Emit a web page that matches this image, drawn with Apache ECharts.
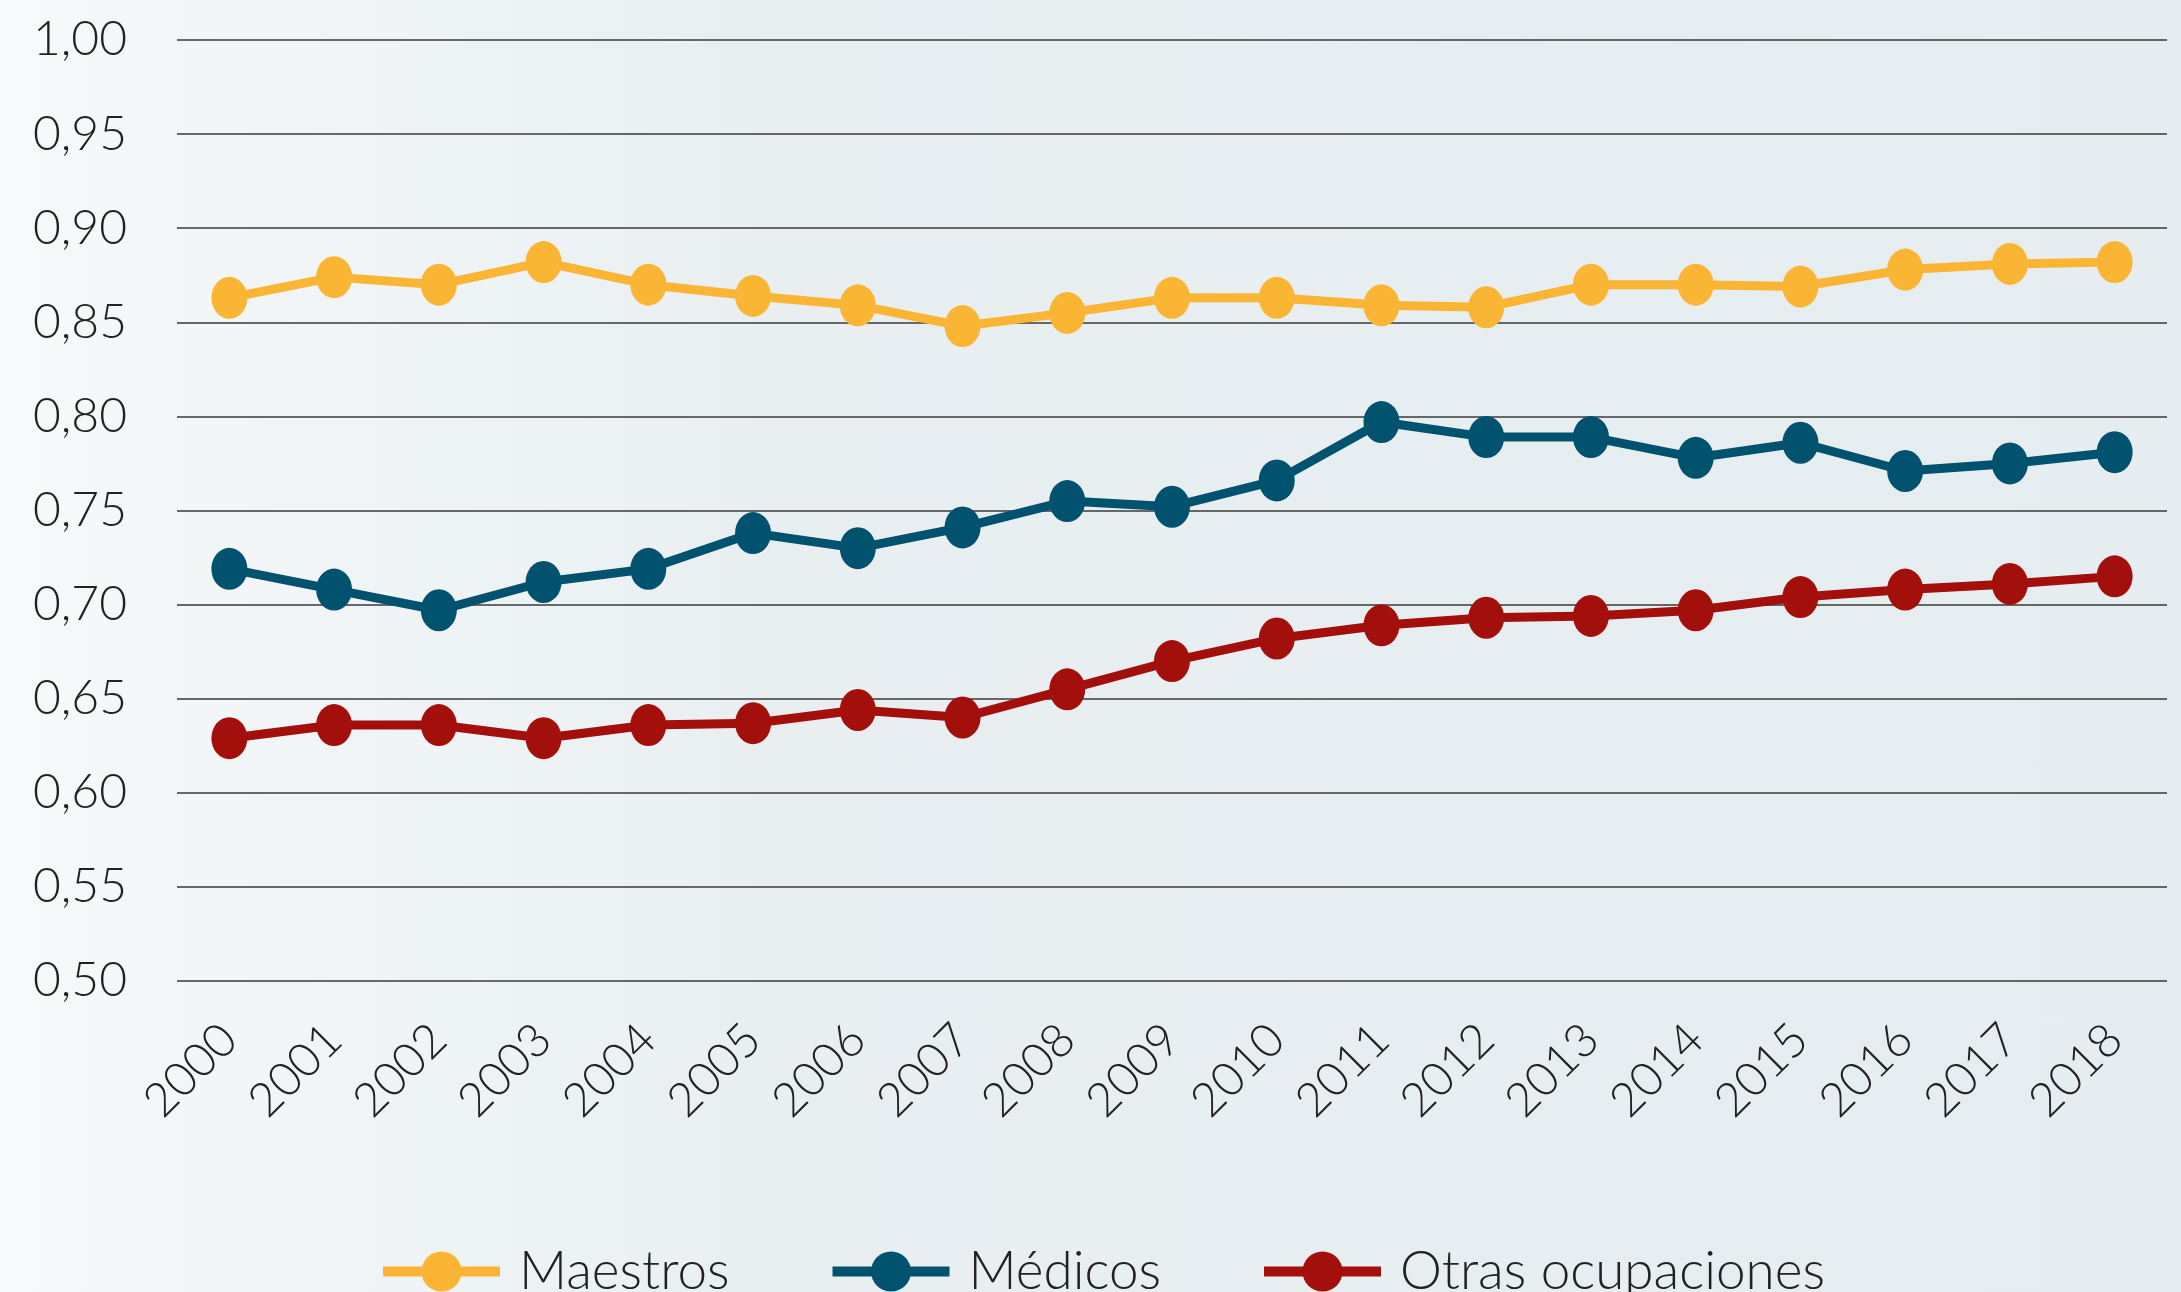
<!DOCTYPE html>
<html>
<head>
<meta charset="utf-8">
<script src="https://cdn.jsdelivr.net/npm/echarts@6/dist/echarts.min.js"></script>
<style>
  html, body { margin: 0; padding: 0; }
  body {
    width: 2181px; height: 1292px; overflow: hidden;
    background: linear-gradient(to right, #f7f9fa 0%, #e9eff1 35%, #e5edf0 100%);
  }
  #chart { width: 2181px; height: 1292px; }
</style>
</head>
<body>
<div id="chart"></div>
<script>
// años
var years = ['2000','2001','2002','2003','2004','2005','2006','2007','2008','2009',
             '2010','2011','2012','2013','2014','2015','2016','2017','2018'];

var maestros = [0.863, 0.874, 0.870, 0.882, 0.870, 0.864, 0.859, 0.848, 0.855, 0.863,
                0.863, 0.859, 0.858, 0.870, 0.870, 0.869, 0.878, 0.881, 0.882];
var medicos  = [0.719, 0.708, 0.697, 0.712, 0.719, 0.738, 0.730, 0.741, 0.755, 0.752,
                0.766, 0.797, 0.789, 0.789, 0.778, 0.786, 0.771, 0.775, 0.781];
var otras    = [0.629, 0.636, 0.636, 0.629, 0.636, 0.637, 0.644, 0.640, 0.655, 0.670,
                0.682, 0.689, 0.693, 0.694, 0.697, 0.704, 0.708, 0.711, 0.715];

// eje Y: 0,50 a 1,00 cada 0,05
var yMin = 0.5, yMax = 1.0, yStep = 0.05;

var font = 'Lato';
var chart = echarts.init(document.getElementById('chart'));

function serie(name, data, color) {
  return {
    name: name,
    type: 'line',
    data: data,
    symbol: 'circle',
    symbolSize: [36, 42],
    lineStyle: { width: 9, color: color },
    itemStyle: { color: color },
    emphasis: { disabled: true }
  };
}

var option = {
  backgroundColor: 'transparent',
  animation: false,
  grid: { left: 177, right: 14, top: 40, bottom: 311 },
  legend: {
    left: 373,
    top: 1240,
    itemWidth: 117,
    itemHeight: 50,
    itemGap: 98,
    lineStyle: { width: 10 },
    textStyle: { fontFamily: font, fontWeight: 300, fontSize: 53, color: '#222', padding: [0, 0, 0, 14] },
    data: ['Maestros', 'Médicos', 'Otras ocupaciones']
  },
  xAxis: {
    type: 'category',
    data: years,
    boundaryGap: true,
    axisLine: { show: false },
    axisTick: { show: false },
    axisLabel: {
      rotate: 45,
      margin: 51,
      fontFamily: font, fontWeight: 300, fontSize: 47, color: '#222'
    }
  },
  yAxis: {
    type: 'value',
    min: yMin, max: yMax, interval: yStep,
    axisLine: { show: false },
    axisTick: { show: false },
    splitLine: { lineStyle: { color: '#3a3a3a', width: 1.5 } },
    axisLabel: {
      margin: 50,
      fontFamily: font, fontWeight: 300, fontSize: 48, color: '#222',
      formatter: function (v) { return v.toFixed(2).replace('.', ','); }
    }
  },
  series: [
    serie('Maestros', maestros, '#fbb534'),
    serie('Médicos', medicos, '#00526f'),
    serie('Otras ocupaciones', otras, '#a3100c')
  ]
};

chart.setOption(option);
</script>
</body>
</html>
